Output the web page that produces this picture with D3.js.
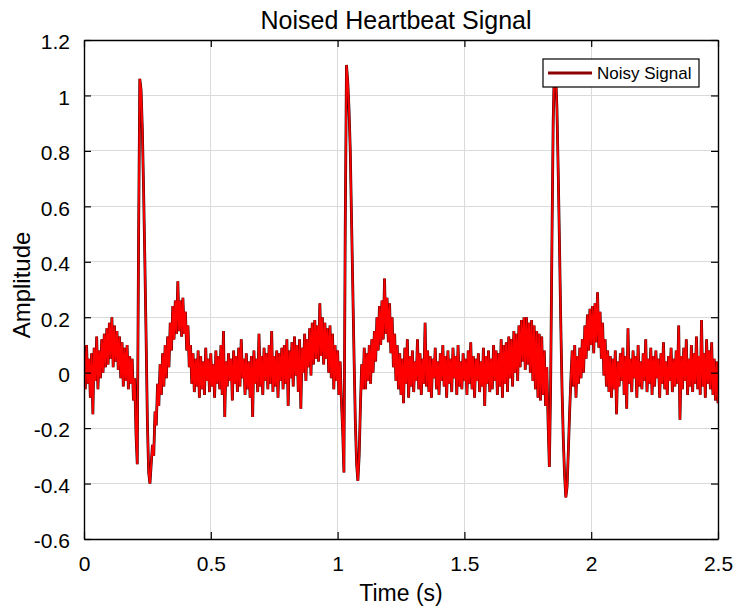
<!DOCTYPE html>
<html>
<head>
<meta charset="utf-8">
<script src="https://cdn.jsdelivr.net/npm/d3@7/dist/d3.min.js"></script>
<style>
  html, body { margin: 0; padding: 0; background: #fff; }
  svg { display: block; font-family: "Liberation Sans", Arial, Helvetica, sans-serif; }
</style>
</head>
<body>
<svg id="chart" width="740" height="609"></svg>
<script>
// ---------------- data ----------------
const title = "Noised Heartbeat Signal";
const xLabel = "Time (s)";
const yLabel = "Amplitude";
const seriesName = "Noisy Signal";
const sampleStep = 0.005;           // seconds between samples
const xDomain = [0, 2.5];
const yDomain = [-0.6, 1.2];
const xTicks = [0, 0.5, 1, 1.5, 2, 2.5];
const xTickLabels = ["0", "0.5", "1", "1.5", "2", "2.5"];
const yTicks = [-0.6, -0.4, -0.2, 0, 0.2, 0.4, 0.6, 0.8, 1, 1.2];
const yTickLabels = ["-0.6", "-0.4", "-0.2", "0", "0.2", "0.4", "0.6", "0.8", "1", "1.2"];

// amplitude samples, one every 5 ms from t = 0 to t = 2.5 s
const amplitude = [
  // 0.000 - 0.025
  0.08, -0.06, 0.10, -0.04, 0.05, -0.09,
  // P wave 1
  0.07, -0.15, 0.09, -0.03, 0.13, -0.06, 0.08, -0.02, 0.12, 0.00, 0.14, 0.02, 0.16, 0.03, 0.18, 0.05,
  0.20, 0.02, 0.17, 0.04, 0.15, 0.01, 0.13, -0.02, 0.11, -0.05, 0.09, -0.03, 0.10, -0.06, 0.06, -0.04,
  // QRS 1
  0.05, -0.10, -0.02, -0.22, -0.33, 0.45, 1.06, 1.02, 0.88, 0.66, 0.40, 0.12, -0.18, -0.36, -0.40,
  -0.33, -0.26, -0.30, -0.14, -0.19, -0.04, -0.12, 0.03,
  // T wave 1
  -0.08, 0.07, -0.05, 0.10, -0.02, 0.13, 0.02, 0.18, 0.08, 0.24, 0.12, 0.26, 0.14, 0.33, 0.15, 0.26,
  0.13, 0.27, 0.14, 0.22, 0.08, 0.17, 0.02, 0.10, -0.04, 0.07, -0.07, 0.05, -0.05, 0.08,
  // baseline 1
  -0.09, 0.06, -0.06, 0.04, -0.08, 0.09, -0.03, 0.05, -0.07, 0.07, -0.05, 0.03, -0.09, 0.08, -0.04, 0.06,
  -0.06, 0.10, -0.08, 0.15, -0.16, 0.04, -0.05, 0.07, -0.03, 0.05, -0.10, 0.08, -0.04, 0.06, -0.07, 0.09,
  -0.05, 0.12, -0.02, 0.05, -0.08, 0.07, -0.06, 0.04, -0.09, 0.06, -0.16, 0.08, -0.04, 0.05, -0.07, 0.14,
  -0.05, 0.06, -0.08, 0.09, -0.03, 0.07, -0.06, 0.10, -0.04, 0.15, -0.07, 0.06, -0.05, 0.08, -0.09, 0.07,
  -0.03,
  // P wave 2
  0.09, -0.06, 0.10, -0.04, 0.12, -0.12, 0.08, -0.02, 0.11, -0.05, 0.13, -0.01, 0.10, -0.07, 0.12, -0.13,
  0.09, 0.00, 0.14, -0.03, 0.12, 0.02, 0.16, -0.01, 0.18, 0.03, 0.19, 0.05, 0.17, 0.04, 0.25, 0.06,
  0.20, 0.03, 0.18, 0.05, 0.16, 0.00, 0.17, -0.02, 0.14, -0.06, 0.10, -0.03, 0.08, -0.08, 0.04, -0.10,
  // QRS 2
  -0.21, -0.36, 0.50, 1.11, 1.05, 0.95, 0.80, 0.55, 0.30, 0.05, -0.18, -0.33, -0.39, -0.30, -0.12, 0.03,
  -0.06,
  // T wave 2
  0.09, -0.06, 0.07, -0.03, 0.10, -0.04, 0.12, 0.00, 0.15, 0.04, 0.20, 0.08, 0.24, 0.10, 0.26, 0.12,
  0.34, 0.14, 0.27, 0.11, 0.25, 0.07, 0.20, 0.02, 0.14, -0.03, 0.10, -0.06, 0.07, -0.08,
  // baseline 2
  0.05, -0.11, 0.09, -0.04, 0.12, -0.09, 0.06, -0.05, 0.08, -0.07, 0.04, -0.03, 0.12, -0.06, 0.07, -0.08,
  0.05, -0.04, 0.18, -0.05, 0.08, -0.07, 0.06, -0.09, 0.05, -0.02, 0.09, -0.06, 0.04, -0.08, 0.07, -0.03,
  0.10, -0.05, 0.06, -0.09, 0.08, -0.04, 0.05, -0.07, 0.09, -0.02, 0.06, -0.08, 0.10, -0.05, 0.04, -0.06,
  0.07, -0.03, 0.05, -0.08, 0.08, -0.04, 0.11, -0.06, 0.06, -0.09, 0.05, -0.03, 0.07, -0.07, 0.04, -0.05,
  0.09, -0.12, 0.06, -0.04, 0.08, -0.07, 0.05, -0.06, 0.10, -0.03, 0.08,
  // P wave 3
  -0.08, 0.07, -0.05, 0.12, -0.09, 0.10, -0.04, 0.11, -0.07, 0.13, -0.02, 0.12, -0.05, 0.15, 0.00, 0.14,
  -0.03, 0.17, 0.02, 0.19, 0.04, 0.20, 0.01, 0.20, 0.03, 0.18, 0.00, 0.19, -0.03, 0.17, -0.06, 0.15,
  -0.09, 0.14, -0.10, 0.13, -0.08, 0.08, -0.12, 0.02, -0.18,
  // QRS 3
  -0.34, -0.05, 0.45, 0.90, 1.12, 1.08, 0.95, 0.72, 0.46, 0.18, -0.06, -0.24, -0.37, -0.45, -0.41, -0.28,
  -0.14, -0.02,
  // T wave 3
  0.08, -0.05, 0.10, -0.09, 0.06, -0.04, 0.09, -0.02, 0.12, 0.00, 0.17, 0.05, 0.21, 0.08, 0.23, 0.10,
  0.24, 0.07, 0.25, 0.11, 0.29, 0.09, 0.22, 0.05, 0.18, -0.01, 0.12, -0.05, 0.08, -0.07, 0.06,
  // baseline 3
  -0.09, 0.05, -0.06, 0.08, -0.15, 0.04, -0.05, 0.07, -0.03, 0.09, -0.08, 0.06, -0.13, 0.16, -0.04, 0.05,
  -0.07, 0.08, -0.02, 0.06, -0.09, 0.10, -0.05, 0.04, -0.06, 0.07, -0.03, 0.12, -0.07, 0.05, -0.04, 0.09,
  -0.08, 0.06, -0.05, 0.08, -0.02, 0.05, -0.09, 0.07, -0.04, 0.11, -0.06, 0.04, -0.08, 0.06, -0.03, 0.09,
  -0.07, 0.05, -0.05, 0.08, -0.04, 0.17, -0.17, 0.06, -0.06, 0.09, -0.03, 0.12, -0.08, 0.05, -0.05, 0.10,
  -0.07, 0.07, -0.04, 0.13, -0.06, 0.06, -0.08, 0.19, -0.05, 0.07, -0.09, 0.12, -0.04, 0.08, -0.06, 0.11,
  -0.08, 0.05, -0.10, 0.04, -0.11
];

// ---------------- layout ----------------
const margin = { left: 84, right: 22, top: 40, bottom: 70 };
const W = 740, H = 609;
const plotW = W - margin.left - margin.right;
const plotH = H - margin.top - margin.bottom;

const svg = d3.select("#chart");
svg.append("rect").attr("width", W).attr("height", H).attr("fill", "#fff");

const x = d3.scaleLinear().domain(xDomain).range([margin.left, margin.left + plotW]);
const y = d3.scaleLinear().domain(yDomain).range([margin.top + plotH, margin.top]);

// grid
const grid = svg.append("g").attr("stroke", "#dadada").attr("stroke-width", 1).attr("shape-rendering", "crispEdges");
grid.selectAll("line.gx").data(xTicks.slice(1, -1)).join("line")
  .attr("x1", d => x(d)).attr("x2", d => x(d))
  .attr("y1", y(yDomain[0])).attr("y2", y(yDomain[1]));
grid.selectAll("line.gy").data(yTicks.slice(1, -1)).join("line")
  .attr("y1", d => y(d)).attr("y2", d => y(d))
  .attr("x1", x(xDomain[0])).attr("x2", x(xDomain[1]));

// signal
const pts = amplitude.map((v, i) => [i * sampleStep, v]);
svg.append("clipPath").attr("id", "clip").append("rect")
  .attr("x", margin.left).attr("y", margin.top).attr("width", plotW).attr("height", plotH);
const line = d3.line().x(d => x(d[0])).y(d => y(d[1]));
const sig = svg.append("g").attr("clip-path", "url(#clip)");
sig.append("path").datum(pts).attr("d", line)
  .attr("fill", "none").attr("stroke", "#2a0000").attr("stroke-width", 2.8).attr("stroke-linejoin", "miter");
sig.append("path").datum(pts).attr("d", line)
  .attr("fill", "none").attr("stroke", "#ff0000").attr("stroke-width", 1.9).attr("stroke-linejoin", "miter");

// axes (MATLAB style: ticks inside on all four sides)
const tickLen = 7;
const fmtX = d => xTickLabels[xTicks.indexOf(d)];
const fmtY = d => yTickLabels[yTicks.indexOf(d)];

const axB = svg.append("g").attr("transform", `translate(0,${y(yDomain[0])})`)
  .call(d3.axisBottom(x).tickValues(xTicks).tickFormat(fmtX).tickSizeInner(-tickLen).tickSizeOuter(0).tickPadding(17));
const axT = svg.append("g").attr("transform", `translate(0,${y(yDomain[1])})`)
  .call(d3.axisTop(x).tickValues(xTicks).tickFormat("").tickSizeInner(-tickLen).tickSizeOuter(0));
const axL = svg.append("g").attr("transform", `translate(${x(xDomain[0])},0)`)
  .call(d3.axisLeft(y).tickValues(yTicks).tickFormat(fmtY).tickSizeInner(-tickLen).tickSizeOuter(0).tickPadding(14));
const axR = svg.append("g").attr("transform", `translate(${x(xDomain[1])},0)`)
  .call(d3.axisRight(y).tickValues(yTicks).tickFormat("").tickSizeInner(-tickLen).tickSizeOuter(0));

[axB, axT, axL, axR].forEach(a => {
  a.select(".domain").attr("stroke", "#000").attr("stroke-width", 1.4);
  a.selectAll(".tick line").attr("stroke", "#000").attr("stroke-width", 1.2);
  a.selectAll("text").attr("fill", "#000").attr("font-size", 21)
    .attr("font-family", '"Liberation Sans", Arial, sans-serif');
});
axL.selectAll("text").attr("dy", "0.42em");
axB.selectAll("text").attr("dy", "0.71em");

// titles
svg.append("text").attr("x", 396).attr("y", 29).attr("text-anchor", "middle")
  .attr("font-size", 25).attr("fill", "#000").text(title);
svg.append("text").attr("x", 401).attr("y", 601).attr("text-anchor", "middle")
  .attr("font-size", 23).attr("fill", "#000").text(xLabel);
svg.append("text").attr("transform", "translate(30,285) rotate(-90)").attr("text-anchor", "middle")
  .attr("font-size", 24).attr("fill", "#000").text(yLabel);

// legend
const lg = svg.append("g");
lg.append("rect").attr("x", 543).attr("y", 59).attr("width", 156).attr("height", 28)
  .attr("fill", "#fff").attr("stroke", "#000").attr("stroke-width", 1.2);
lg.append("line").attr("x1", 548).attr("x2", 592).attr("y1", 73).attr("y2", 73)
  .attr("stroke", "#8b0000").attr("stroke-width", 3.2);
lg.append("text").attr("x", 597).attr("y", 79).attr("font-size", 17).attr("fill", "#000").text(seriesName);
</script>
</body>
</html>
